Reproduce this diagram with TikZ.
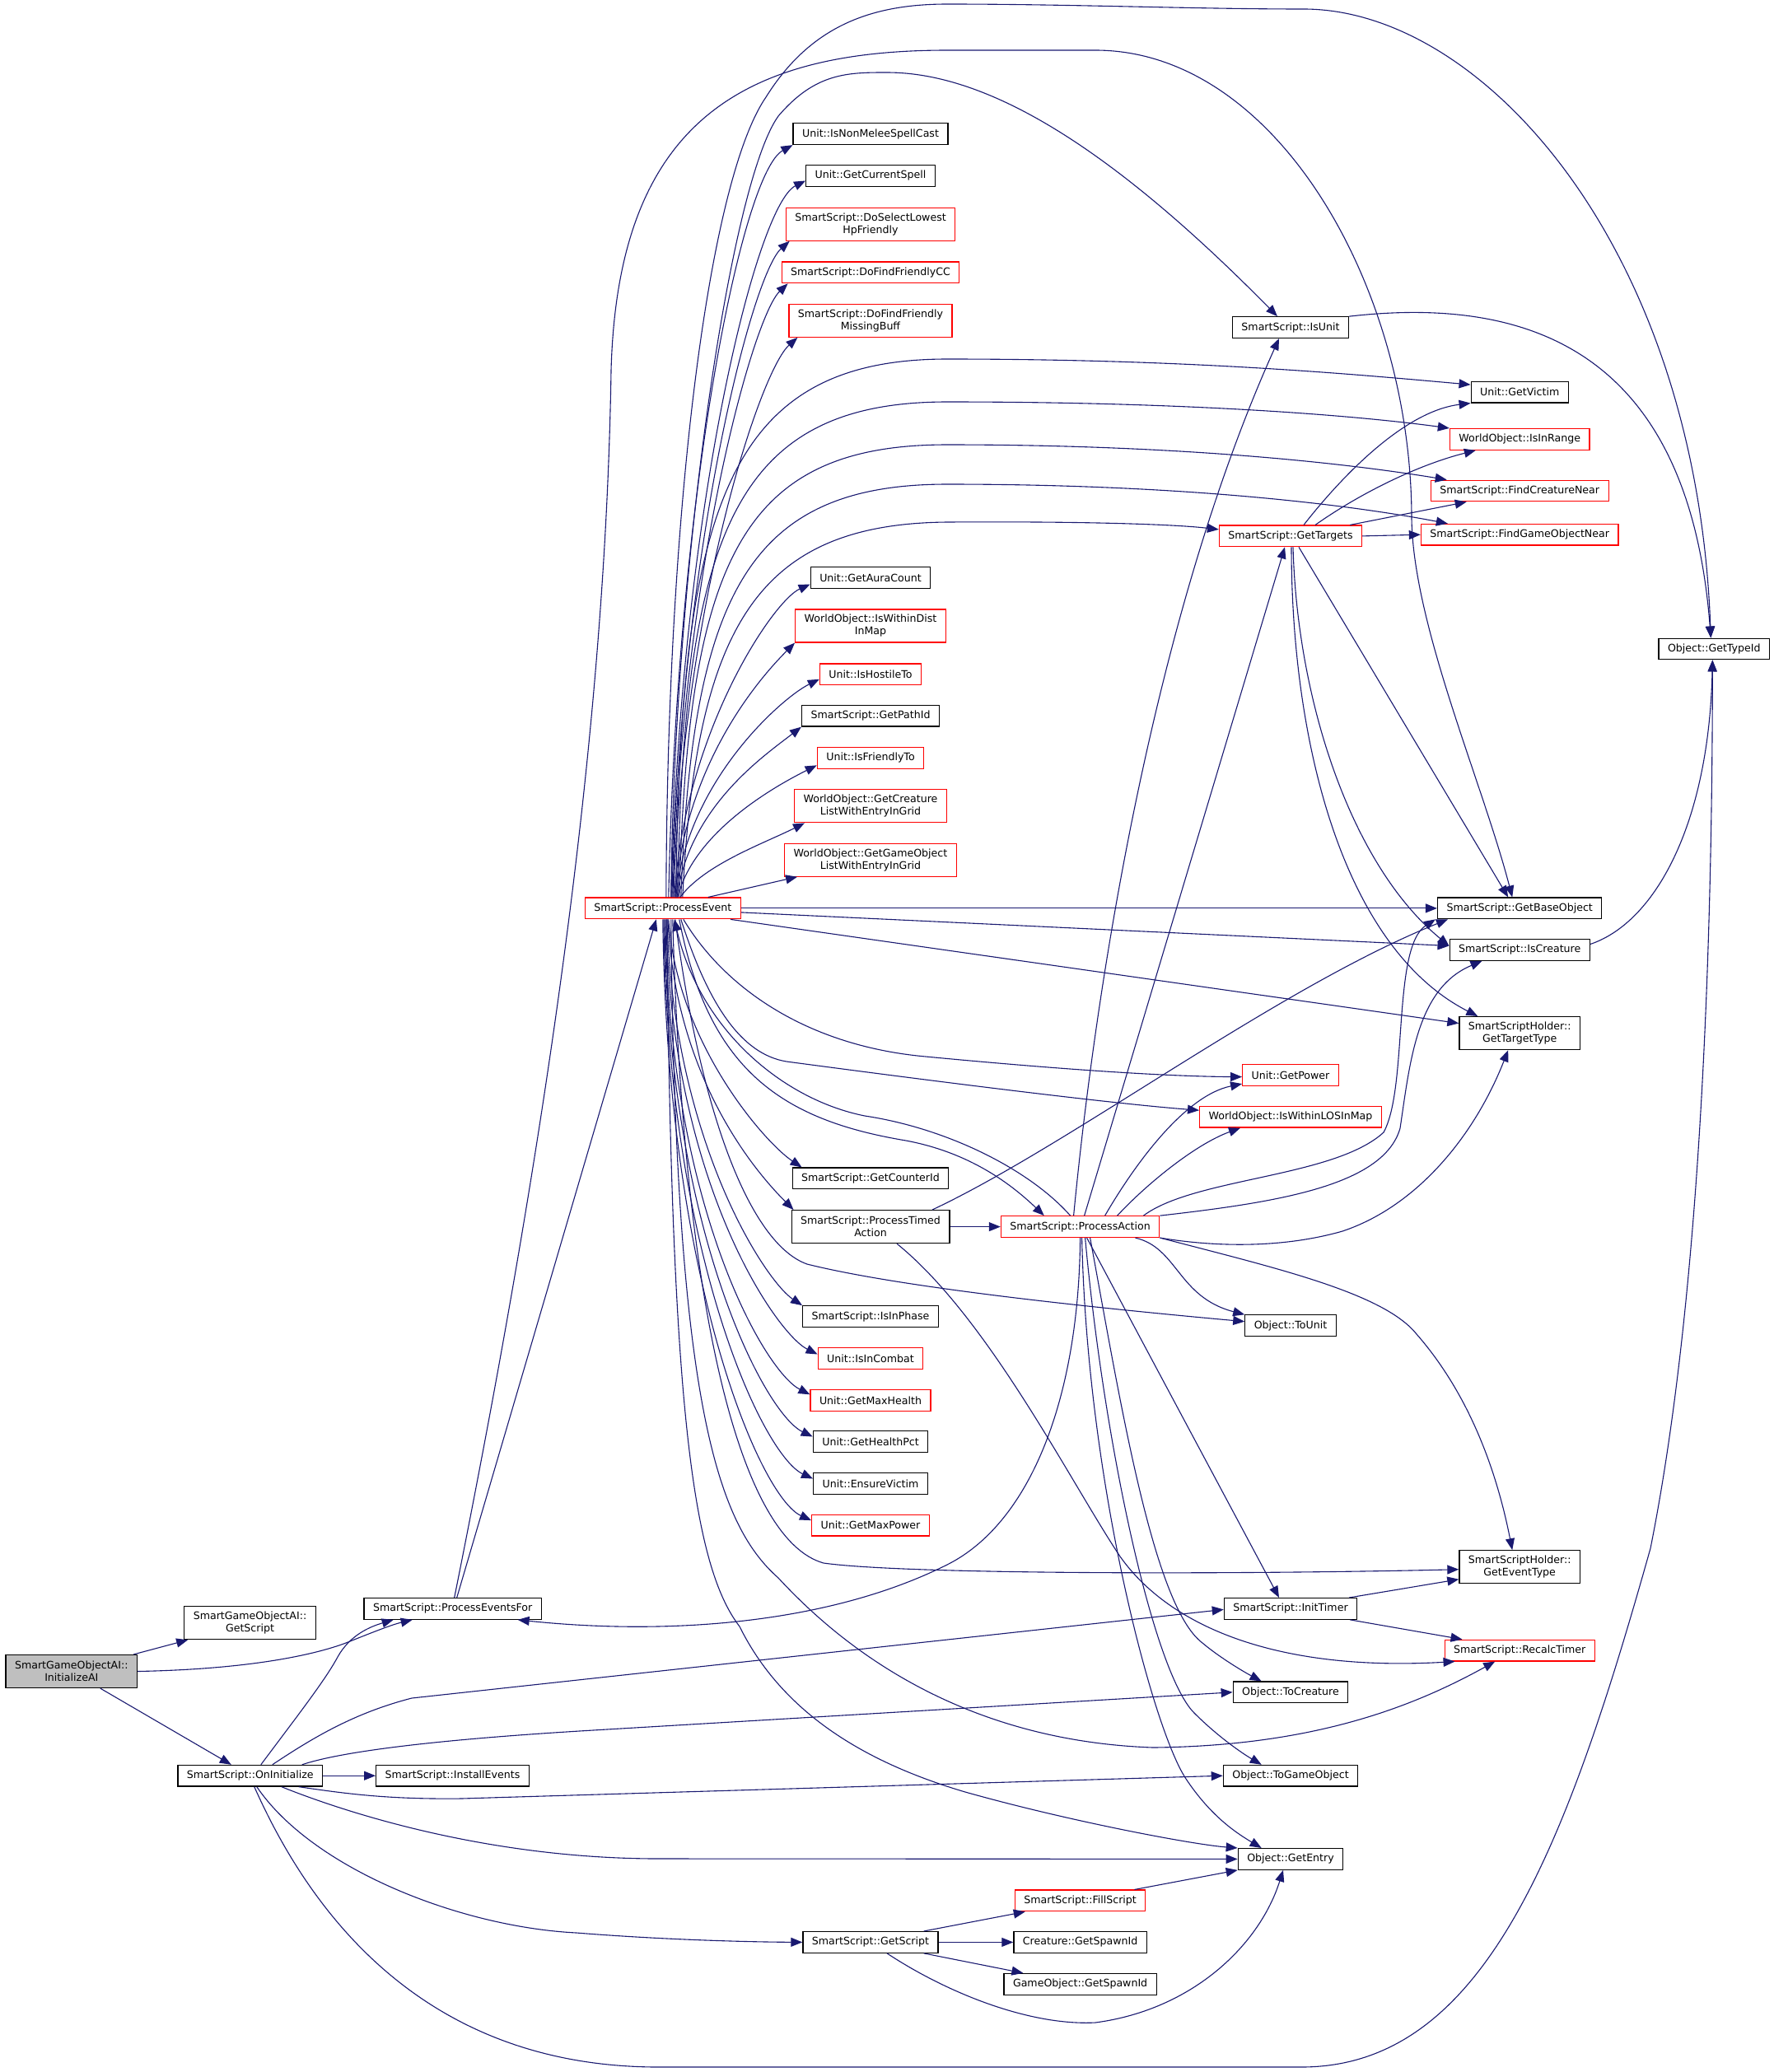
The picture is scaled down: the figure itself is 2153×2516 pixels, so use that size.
\documentclass[tikz,border=0pt]{standalone}
\usepackage{fontspec}
\newfontfamily\dxfont{DejaVu Sans}
\usetikzlibrary{arrows.meta}
\definecolor{edgeblue}{HTML}{191970}
\definecolor{fnred}{HTML}{FF0000}
\definecolor{rootgray}{HTML}{BFBFBF}

\begin{document}
\begin{tikzpicture}[x=1pt,y=-1pt,
    fn/.style={draw=black,line width=1.2pt,fill=white,align=center,
      font=\dxfont\fontsize{12.6}{15}\selectfont,
      inner xsep=11pt,inner ysep=2pt,minimum height=25.7pt},
    fnn/.style={fn,minimum height=40pt},
    undoc/.style={draw=fnred},
    root/.style={fill=rootgray},
    call/.style={draw=edgeblue,line width=1.1pt,-{Triangle[length=14pt,width=11pt]}}]
  \useasboundingbox (0,0) rectangle (2153,2516);

  \node[fnn,root] (iai) at (86.8,2029.5) {SmartGameObjectAI::\\InitializeAI};
  \node[fnn] (sgs) at (303.5,1970.7) {SmartGameObjectAI::\\GetScript};
  \node[fn] (pef) at (549.7,1953.4) {SmartScript::ProcessEventsFor};
  \node[fn] (oni) at (303.8,2156.2) {SmartScript::OnInitialize};
  \node[fn] (ine) at (549.5,2156.2) {SmartScript::InstallEvents};
  \node[fn,undoc] (pe) at (804.8,1102.9) {SmartScript::ProcessEvent};

  \node[fn] (nmc) at (1057,162.7) {Unit::IsNonMeleeSpellCast};
  \node[fn] (gcs) at (1057,213.5) {Unit::GetCurrentSpell};
  \node[fnn,undoc] (dsl) at (1057,272.2) {SmartScript::DoSelectLowest\\HpFriendly};
  \node[fn,undoc] (dcc) at (1057,330.9) {SmartScript::DoFindFriendlyCC};
  \node[fnn,undoc] (dmb) at (1057,389.3) {SmartScript::DoFindFriendly\\MissingBuff};
  \node[fn] (gac) at (1057,701.5) {Unit::GetAuraCount};
  \node[fnn,undoc] (wdm) at (1057,760) {WorldObject::IsWithinDist\\InMap};
  \node[fn,undoc] (iht) at (1057,818.8) {Unit::IsHostileTo};
  \node[fn] (gpi) at (1057,869.2) {SmartScript::GetPathId};
  \node[fn,undoc] (ift) at (1057,920.3) {Unit::IsFriendlyTo};
  \node[fnn,undoc] (gcl) at (1057,978.8) {WorldObject::GetCreature\\ListWithEntryInGrid};
  \node[fnn,undoc] (gol) at (1057,1044.1) {WorldObject::GetGameObject\\ListWithEntryInGrid};
  \node[fn] (gci) at (1057,1430.9) {SmartScript::GetCounterId};
  \node[fnn] (pta) at (1057,1489.6) {SmartScript::ProcessTimed\\Action};
  \node[fn] (iip) at (1057,1598.6) {SmartScript::IsInPhase};
  \node[fn,undoc] (iic) at (1057,1649.5) {Unit::IsInCombat};
  \node[fn,undoc] (gmh) at (1057,1700.3) {Unit::GetMaxHealth};
  \node[fn] (ghp) at (1057,1750.5) {Unit::GetHealthPct};
  \node[fn] (env) at (1057,1801.5) {Unit::EnsureVictim};
  \node[fn,undoc] (gmp) at (1057,1852.1) {Unit::GetMaxPower};
  \node[fn] (gsc) at (1057,2358.4) {SmartScript::GetScript};

  \node[fn,undoc] (pa) at (1311.6,1489.6) {SmartScript::ProcessAction};
  \node[fn,undoc] (fsc) at (1311.6,2307.9) {SmartScript::FillScript};
  \node[fn] (cgs) at (1311.6,2358.4) {Creature::GetSpawnId};
  \node[fn] (ggs) at (1311.6,2409.3) {GameObject::GetSpawnId};

  \node[fn] (isu) at (1567,397.6) {SmartScript::IsUnit};
  \node[fn,undoc] (gt) at (1567,650.9) {SmartScript::GetTargets};
  \node[fn,undoc] (gpw) at (1567,1305.6) {Unit::GetPower};
  \node[fn,undoc] (los) at (1567,1356.2) {WorldObject::IsWithinLOSInMap};
  \node[fn] (tou) at (1567,1609.7) {Object::ToUnit};
  \node[fn] (itm) at (1567,1953.4) {SmartScript::InitTimer};
  \node[fn] (tcr) at (1567,2054.8) {Object::ToCreature};
  \node[fn] (tgo) at (1567,2156.2) {Object::ToGameObject};
  \node[fn] (gen) at (1567,2257.4) {Object::GetEntry};

  \node[fn] (gvi) at (1845.2,476.1) {Unit::GetVictim};
  \node[fn,undoc] (iir) at (1845.2,533.4) {WorldObject::IsInRange};
  \node[fn,undoc] (fcn) at (1845.2,596) {SmartScript::FindCreatureNear};
  \node[fn,undoc] (fgn) at (1845.2,649.2) {SmartScript::FindGameObjectNear};
  \node[fn] (gbo) at (1845.2,1102.9) {SmartScript::GetBaseObject};
  \node[fn] (icr) at (1845.2,1153.5) {SmartScript::IsCreature};
  \node[fnn] (gtt) at (1845.2,1254.6) {SmartScriptHolder::\\GetTargetType};
  \node[fnn] (get) at (1845.2,1902.7) {SmartScriptHolder::\\GetEventType};
  \node[fn,undoc] (rct) at (1845.2,2004.1) {SmartScript::RecalcTimer};

  \node[fn] (gti) at (2081.3,788) {Object::GetTypeId};

  % InitializeAI and OnInitialize
  \draw[call] ([xshift=-5]iai.north east) -- ([xshift=5]sgs.south west);
  \draw[call] (iai.east) .. controls (300,2027) and (380,2010) .. (420,1995) .. controls (450,1983) and (475,1973) .. ([xshift=-49]pef.south);
  \draw[call] ([xshift=35]iai.south) -- ([xshift=-23]oni.north);
  \draw[call] (oni.east) -- (ine.west);
  \draw[call] ([xshift=13]oni.north) .. controls (360,2085) and (395,2040) .. (410,2012) .. controls (425,1985) and (450,1975) .. ([xshift=-72]pef.south);
  \draw[call] ([xshift=27]oni.north) .. controls (380,2110) and (430,2080) .. (500,2062) -- ([yshift=-1]itm.west);
  \draw[call] ([xshift=63]oni.north) .. controls (420,2125) and (550,2111) .. (720,2101) -- (tcr.west);
  \draw[call] ([xshift=59]oni.south) .. controls (420,2178) and (470,2185) .. (560,2184) -- (tgo.west);
  \draw[call] ([xshift=38]oni.south) .. controls (430,2205) and (600,2257) .. (800,2257) -- (gen.west);
  \draw[call] ([xshift=8]oni.south) .. controls (380,2270) and (560,2340) .. (700,2347) .. controls (800,2355) and (900,2358) .. (gsc.west);
  \draw[call] ([xshift=5]oni.south) .. controls (380,2330) and (520,2510) .. (800,2510) -- (1580,2510) .. controls (1800,2510) and (1900,2250) .. (2004,1880) .. controls (2050,1650) and (2079,1300) .. ([xshift=-2]gti.south);

  % ProcessEventsFor
  \draw[call] ([xshift=5]pef.north) -- ([xshift=-8]pe.south);
  \draw[call] ([xshift=2]pef.north) .. controls (660,1400) and (735,900) .. (742,450) .. controls (750,150) and (900,61) .. (1150,61) -- (1330,61) .. controls (1550,61) and (1714,350) .. (1714,630) .. controls (1716,760) and (1800,950) .. ([xshift=-9]gbo.north);

  % ProcessEvent, upwards
  \draw[call] ([xshift=4]pe.north) .. controls (810,620) and (860,220) .. (930,118) .. controls (985,30) and (1060,5) .. (1150,5) .. controls (1300,5) and (1450,11) .. (1583,11) .. controls (1800,11) and (2060,300) .. ([xshift=-4]gti.north);
  \draw[call] ([xshift=10]pe.north) .. controls (818,700) and (885,225) .. (945,141) .. controls (990,88) and (1030,88) .. (1077,88) .. controls (1200,88) and (1350,180) .. ([xshift=-16]isu.north);
  \draw[call] ([xshift=7]pe.north) .. controls +(10,-490) and +(-62,34) .. (nmc.south west);
  \draw[call] ([xshift=10]pe.north) .. controls +(12,-470) and +(-60,30) .. ([yshift=-6]gcs.west);
  \draw[call] ([xshift=11]pe.north) .. controls +(12,-430) and +(-45,40) .. ([xshift=5]dsl.south west);
  \draw[call] ([xshift=12]pe.north) .. controls +(12,-400) and +(-42,40) .. ([xshift=8]dcc.south west);
  \draw[call] ([xshift=13]pe.north) .. controls +(12,-360) and +(-45,40) .. ([xshift=11]dmb.south west);
  \draw[call] ([xshift=14]pe.north) .. controls +(12,-200) and +(-45,20) .. ([yshift=-8]gac.west);
  \draw[call] ([xshift=15]pe.north) .. controls +(12,-165) and +(-40,40) .. (wdm.south west);
  \draw[call] ([xshift=16]pe.north) .. controls +(12,-140) and +(-45,22) .. ([yshift=-6]iht.west);
  \draw[call] ([xshift=17]pe.north) .. controls +(15,-110) and +(-45,35) .. (gpi.south west);
  \draw[call] ([xshift=18]pe.north) .. controls +(20,-80) and +(-50,25) .. ([yshift=-9]ift.west);
  \draw[call] ([xshift=21]pe.north) .. controls +(30,-40) and +(-50,25) .. ([xshift=13]gcl.south west);
  \draw[call] ([xshift=55]pe.north) -- ([xshift=16]gol.south west);

  % ProcessEvent, to the right above
  \draw[call] ([xshift=16]pe.north) .. controls (826,620) and (880,436) .. (1150,436) .. controls (1450,436) and (1650,455) .. ([yshift=9]gvi.west);
  \draw[call] ([xshift=18]pe.north) .. controls (830,650) and (890,488) .. (1150,488) .. controls (1450,488) and (1650,505) .. (iir.north west);
  \draw[call] ([xshift=20]pe.north) .. controls (835,680) and (900,540) .. (1150,540) .. controls (1450,540) and (1650,565) .. ([xshift=20]fcn.north west);
  \draw[call] ([xshift=22]pe.north) .. controls (840,720) and (910,588) .. (1150,588) .. controls (1450,588) and (1650,615) .. ([xshift=33]fgn.north west);
  \draw[call] ([xshift=24]pe.north) .. controls (845,760) and (920,636) .. (1150,634) .. controls (1300,633) and (1420,636) .. ([yshift=8]gt.west);
  \draw[call] (pe.east) -- (gbo.west);
  \draw[call] ([yshift=-5]pe.east) -- ([yshift=5]icr.west);
  \draw[call] ([xshift=-13]pe.south east) -- ([yshift=12]gtt.west);

  % ProcessEvent, downwards
  \draw[call] ([xshift=7]pe.south) .. controls +(10,150) and +(-45,-30) .. ([xshift=12]gci.north west);
  \draw[call] ([xshift=6]pe.south) .. controls +(10,200) and +(-40,-40) .. ([xshift=3]pta.north west);
  \draw[call] ([xshift=5]pe.south) .. controls +(8,270) and +(-45,-30) .. (iip.north west);
  \draw[call] ([xshift=4]pe.south) .. controls +(6,320) and +(-50,-25) .. ([yshift=5]iic.west);
  \draw[call] ([xshift=3]pe.south) .. controls +(5,350) and +(-55,-28) .. ([yshift=7]gmh.west);
  \draw[call] ([xshift=2]pe.south) .. controls +(5,380) and +(-58,-28) .. ([yshift=6]ghp.west);
  \draw[call] ([xshift=1]pe.south) .. controls +(5,410) and +(-60,-28) .. ([yshift=6]env.west);
  \draw[call] (pe.south) .. controls +(5,440) and +(-62,-28) .. ([yshift=6]gmp.west);
  \draw[call] ([xshift=25]pe.south) .. controls (880,1200) and (980,1270) .. (1124,1283) .. controls (1250,1295) and (1400,1307) .. ([yshift=-2]gpw.west);
  \draw[call] ([xshift=22]pe.south) .. controls (860,1220) and (900,1280) .. (955,1289) .. controls (1150,1315) and (1350,1340) .. ([yshift=8]los.west);
  \draw[call] ([xshift=20]pe.south) .. controls (860,1300) and (950,1360) .. (1100,1385) .. controls (1180,1400) and (1230,1440) .. ([xshift=53]pa.north west);
  \draw[call] ([xshift=15]pe.south) .. controls (850,1350) and (910,1510) .. (980,1535) .. controls (1100,1565) and (1350,1590) .. ([yshift=5]tou.west);
  \draw[call] ([xshift=12]pe.south) .. controls (830,1600) and (900,1870) .. (1000,1898) .. controls (1100,1912) and (1500,1912) .. ([yshift=-3]get.west);
  \draw[call] ([xshift=10]pe.south) .. controls (820,1700) and (870,1850) .. (945,1916) .. controls (1050,2030) and (1200,2115) .. (1400,2122) .. controls (1600,2120) and (1720,2070) .. ([xshift=-30]rct.south);
  \draw[call] ([xshift=5]pe.south) .. controls (815,1700) and (840,1900) .. (898,1975) .. controls (950,2080) and (1050,2140) .. (1172,2176) .. controls (1300,2212) and (1450,2240) .. (gen.north west);

  % ProcessTimedAction and ProcessAction
  \draw[call] (pta.east) -- (pa.west);
  \draw[call] ([xshift=75]pta.north) .. controls (1300,1390) and (1550,1200) .. ([xshift=13]gbo.south west);
  \draw[call] ([xshift=32]pta.south) .. controls (1200,1600) and (1300,1800) .. (1360,1890) .. controls (1420,1975) and (1550,2030) .. ([xshift=13]rct.south west);
  \draw[call] ([xshift=-12]pa.north) .. controls (1250,1420) and (1150,1370) .. (1050,1355) .. controls (950,1335) and (850,1250) .. ([xshift=14]pe.south);
  \draw[call] (pa.south) .. controls (1310,1700) and (1250,1850) .. (1150,1900) .. controls (1000,1975) and (800,1985) .. ([xshift=79]pef.south);
  \draw[call] ([xshift=-8]pa.north) .. controls (1330,1200) and (1400,750) .. ([xshift=-14]isu.south);
  \draw[call] ([xshift=5]pa.north) -- ([xshift=-7]gt.south);
  \draw[call] ([xshift=30]pa.north) .. controls (1380,1410) and (1440,1330) .. ([yshift=3]gpw.south west);
  \draw[call] ([xshift=45]pa.north) .. controls (1390,1440) and (1450,1390) .. ([xshift=50]los.south west);
  \draw[call] ([xshift=-20]pa.north east) .. controls (1450,1430) and (1620,1430) .. (1680,1375) .. controls (1710,1320) and (1690,1150) .. ([xshift=-2]gbo.south west);
  \draw[call] (pa.north east) .. controls (1550,1460) and (1680,1440) .. (1700,1370) .. controls (1712,1290) and (1720,1200) .. ([xshift=40]icr.south west);
  \draw[call] (pa.south east) .. controls (1480,1515) and (1560,1515) .. (1630,1495) .. controls (1720,1465) and (1790,1380) .. ([xshift=-14]gtt.south);
  \draw[call] ([xshift=-30]pa.south east) .. controls (1430,1515) and (1430,1575) .. (tou.north west);
  \draw[call] (pa.south east) .. controls (1550,1540) and (1680,1570) .. (1720,1620) .. controls (1790,1700) and (1820,1800) .. ([xshift=-9]get.north);
  \draw[call] ([xshift=8]pa.south) -- ([xshift=-14]itm.north);
  \draw[call] ([xshift=12]pa.south) .. controls (1360,1700) and (1400,1950) .. (1460,1995) .. controls (1480,2012) and (1510,2030) .. ([xshift=35]tcr.north west);
  \draw[call] ([xshift=6]pa.south) .. controls (1340,1750) and (1400,2030) .. (1450,2080) .. controls (1480,2110) and (1510,2130) .. ([xshift=47]tgo.north west);
  \draw[call] ([xshift=2]pa.south) .. controls (1320,1800) and (1400,2100) .. (1440,2160) .. controls (1470,2205) and (1500,2225) .. ([xshift=29]gen.north west);

  % GetTargets
  \draw[call] ([xshift=16]gt.north) .. controls (1620,590) and (1700,500) .. (gvi.south west);
  \draw[call] ([xshift=30]gt.north) .. controls (1650,600) and (1720,565) .. ([xshift=32]iir.south west);
  \draw[call] ([xshift=-15]gt.north east) -- ([xshift=44]fcn.south west);
  \draw[call] (gt.east) -- (fgn.west);
  \draw[call] ([xshift=10]gt.south) -- ([xshift=-14]gbo.north);
  \draw[call] ([xshift=3]gt.south) .. controls (1575,850) and (1640,1050) .. ([yshift=5]icr.west);
  \draw[call] ([xshift=1]gt.south) .. controls (1568,900) and (1630,1150) .. ([xshift=23]gtt.north west);

  % the rest
  \draw[call] (isu.north east) .. controls (1850,360) and (2050,420) .. ([xshift=-4]gti.north);
  \draw[call] ([yshift=7]icr.east) .. controls (2010,1120) and (2075,1000) .. ([xshift=-2]gti.south);
  \draw[call] ([xshift=-10]itm.north east) -- ([yshift=-15]get.west);
  \draw[call] ([xshift=-9]itm.south east) -- ([xshift=22]rct.north west);
  \draw[call] ([xshift=-18]gsc.north east) -- ([xshift=13]fsc.south west);
  \draw[call] (gsc.east) -- (cgs.west);
  \draw[call] ([xshift=-18]gsc.south east) -- ([xshift=24]ggs.north west);
  \draw[call] ([xshift=20]gsc.south) .. controls (1150,2420) and (1250,2460) .. (1330,2456) .. controls (1450,2440) and (1530,2360) .. ([xshift=-9]gen.south);
  \draw[call] ([xshift=-14]fsc.north east) -- (gen.south west);
\end{tikzpicture}
\end{document}
